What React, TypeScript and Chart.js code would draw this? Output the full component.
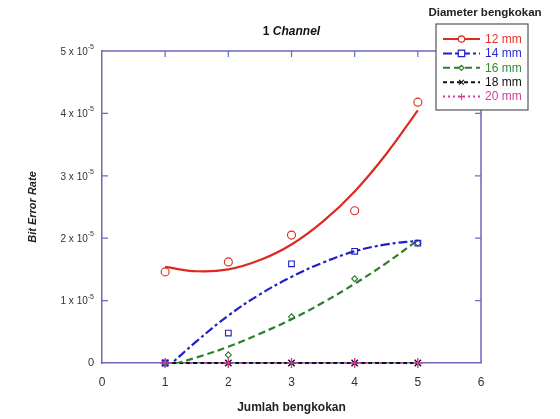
import React, { useEffect, useRef } from "react";
import { Chart, registerables } from "chart.js";

Chart.register(...registerables);

// Measured points: number of bends vs bit error rate (values in units of 10^-5)
const bends = [1, 2, 3, 4, 5];
const ber12 = [1.46, 1.62, 2.05, 2.44, 4.18];
const ber14 = [0, 0.48, 1.59, 1.79, 1.92];
const ber16 = [0, 0.13, 0.74, 1.35, 1.92];
const ber18 = [0, 0, 0, 0, 0];
const ber20 = [0, 0, 0, 0, 0];

// Trend curves sampled along the x axis
const fitX = [1, 1.5, 2, 2.5, 3, 3.5, 4, 4.5, 5];
const fit12 = [1.54, 1.47, 1.5, 1.65, 1.9, 2.27, 2.75, 3.35, 4.05];
const fit14 = [-0.1, 0.35, 0.76, 1.1, 1.38, 1.61, 1.79, 1.9, 1.96];
const fit16 = [-0.06, 0.09, 0.26, 0.47, 0.7, 0.97, 1.27, 1.6, 1.97];
const fit18 = [0, 0, 0, 0, 0, 0, 0, 0, 0];
const fit20 = [0, 0, 0, 0, 0, 0, 0, 0, 0];

const xTicks = [0, 1, 2, 3, 4, 5, 6];
const yTicks = [0, 1, 2, 3, 4, 5];

const seriesLabels = ["12 mm", "14 mm", "16 mm", "18 mm", "20 mm"];
const seriesColors = ["#dc2a20", "#2020c8", "#2f7d2f", "#111111", "#d23c9e"];
const seriesText = ["#e0342a", "#2a2ad0", "#3a8a3a", "#111111", "#d23c9e"];
const seriesDash = [[], [9, 3, 3, 3], [7, 4], [4, 3], [2, 3]];
const seriesPoint = ["circle", "rect", "rectRot", "crossRot", "cross"];
const seriesRadius = [4, 4, 3, 4.5, 5];

const FONT = "'Liberation Sans', Arial, sans-serif";
const FRAME = "#6a6abf";

const pts = (xs: number[], ys: number[]) => xs.map((x, i) => ({ x, y: ys[i] }));

function drawMarker(ctx: CanvasRenderingContext2D, style: string, x: number, y: number, r: number) {
  ctx.beginPath();
  if (style === "circle") {
    ctx.arc(x, y, r, 0, Math.PI * 2);
  } else if (style === "rect") {
    ctx.rect(x - r, y - r, 2 * r, 2 * r);
  } else if (style === "rectRot") {
    ctx.moveTo(x, y - r);
    ctx.lineTo(x + r, y);
    ctx.lineTo(x, y + r);
    ctx.lineTo(x - r, y);
    ctx.closePath();
  } else if (style === "crossRot") {
    const d = r * 0.75;
    ctx.moveTo(x - d, y - d);
    ctx.lineTo(x + d, y + d);
    ctx.moveTo(x + d, y - d);
    ctx.lineTo(x - d, y + d);
  } else {
    ctx.moveTo(x - r, y);
    ctx.lineTo(x + r, y);
    ctx.moveTo(x, y - r);
    ctx.lineTo(x, y + r);
  }
}

const framePlugin = {
  id: "frameAndLabels",
  afterDraw(chart: any) {
    const { ctx, chartArea: a, scales } = chart;
    const xs = scales.x;
    const ys = scales.y;
    ctx.save();

    // top and right sides of the box
    ctx.strokeStyle = FRAME;
    ctx.lineWidth = 1.5;
    ctx.beginPath();
    ctx.moveTo(a.left, a.top);
    ctx.lineTo(a.right, a.top);
    ctx.lineTo(a.right, a.bottom);
    ctx.stroke();

    // inward tick marks
    ctx.lineWidth = 1.2;
    ctx.beginPath();
    yTicks.slice(1, -1).forEach((v) => {
      const py = ys.getPixelForValue(v);
      ctx.moveTo(a.left, py);
      ctx.lineTo(a.left + 6, py);
      ctx.moveTo(a.right, py);
      ctx.lineTo(a.right - 6, py);
    });
    xTicks.slice(1, -1).forEach((v) => {
      const px = xs.getPixelForValue(v);
      ctx.moveTo(px, a.top);
      ctx.lineTo(px, a.top + 6);
    });
    ctx.stroke();

    // y tick labels with superscript exponent
    ctx.fillStyle = "#333";
    ctx.textBaseline = "middle";
    yTicks.forEach((v) => {
      const py = ys.getPixelForValue(v);
      const right = a.left - 8;
      if (v === 0) {
        ctx.font = `11px ${FONT}`;
        ctx.textAlign = "right";
        ctx.fillText("0", right, py);
        return;
      }
      ctx.font = `7px ${FONT}`;
      const sup = "-5";
      const supW = ctx.measureText(sup).width;
      ctx.textAlign = "left";
      ctx.fillText(sup, right - supW, py - 4);
      ctx.font = `10px ${FONT}`;
      ctx.textAlign = "right";
      ctx.fillText(`${v} x 10`, right - supW, py + 1);
    });

    // title: "1 Channel"
    const cx = (a.left + a.right) / 2;
    ctx.fillStyle = "#111";
    ctx.font = `bold 12px ${FONT}`;
    const p1 = "1 ";
    const w1 = ctx.measureText(p1).width;
    ctx.font = `italic bold 12px ${FONT}`;
    const p2 = "Channel";
    const w2 = ctx.measureText(p2).width;
    const tx = cx - (w1 + w2) / 2;
    ctx.textAlign = "left";
    ctx.font = `bold 12px ${FONT}`;
    ctx.fillText(p1, tx, 32);
    ctx.font = `italic bold 12px ${FONT}`;
    ctx.fillText(p2, tx + w1, 32);

    // legend box, drawn over the top-right corner of the frame
    const bx = 436, by = 24, bw = 92, bh = 86;
    ctx.fillStyle = "#fff";
    ctx.fillRect(bx, by, bw, bh);
    ctx.strokeStyle = "#555";
    ctx.lineWidth = 1.2;
    ctx.strokeRect(bx, by, bw, bh);

    ctx.fillStyle = "#222";
    ctx.font = `bold 11.5px ${FONT}`;
    ctx.textAlign = "center";
    ctx.fillText("Diameter bengkokan", 485, 13);

    seriesLabels.forEach((lab, i) => {
      const ry = 39 + i * 14.4;
      ctx.strokeStyle = seriesColors[i];
      ctx.lineWidth = 2;
      ctx.setLineDash(seriesDash[i]);
      ctx.beginPath();
      ctx.moveTo(443, ry);
      ctx.lineTo(480, ry);
      ctx.stroke();
      ctx.setLineDash([]);
      ctx.lineWidth = 1.2;
      drawMarker(ctx, seriesPoint[i], 461.5, ry, i === 2 ? 2.5 : 3.2);
      if (seriesPoint[i] === "circle" || seriesPoint[i] === "rect" || seriesPoint[i] === "rectRot") {
        ctx.fillStyle = "#fff";
        ctx.fill();
      }
      ctx.stroke();
      ctx.fillStyle = seriesText[i];
      ctx.font = `12px ${FONT}`;
      ctx.textAlign = "left";
      ctx.fillText(lab, 485, ry + 0.5);
    });

    ctx.restore();
  },
};

export default function App() {
  const ref = useRef<HTMLCanvasElement | null>(null);

  useEffect(() => {
    if (!ref.current) return;
    const markerSets = [ber12, ber14, ber16, ber18, ber20];
    const fitSets = [fit12, fit14, fit16, fit18, fit20];

    const fitDatasets = fitSets.map((ys, i) => ({
      label: seriesLabels[i] + " fit",
      data: pts(fitX, ys),
      borderColor: seriesColors[i],
      borderWidth: 2.2,
      borderDash: seriesDash[i],
      pointRadius: 0,
      tension: 0.4,
      fill: false,
      // flat curves lie on the axis; keep them fully visible
      clip: i >= 3 ? false : undefined,
      order: 3,
    }));
    const markerDatasets = markerSets.map((ys, i) => ({
      label: seriesLabels[i],
      data: pts(bends, ys),
      showLine: false,
      pointStyle: seriesPoint[i],
      pointRadius: seriesRadius[i],
      pointBorderWidth: i >= 3 ? 1.4 : 1.1,
      pointBorderColor: seriesColors[i],
      pointBackgroundColor: "rgba(255,255,255,0)",
      borderColor: seriesColors[i],
      clip: false,
      // the 20 mm "+" markers sit on top of the others
      order: i === 4 ? 1 : 2,
    }));

    const chart = new Chart(ref.current, {
      type: "line",
      data: { datasets: [...fitDatasets, ...markerDatasets] as any },
      options: {
        animation: false,
        responsive: true,
        maintainAspectRatio: false,
        layout: { padding: { top: 51, right: 79, left: 0, bottom: 0 } },
        plugins: { legend: { display: false }, tooltip: { enabled: false }, title: { display: false } },
        scales: {
          x: {
            type: "linear",
            min: 0,
            max: 6,
            afterFit: (s: any) => { s.height = 56; },
            afterBuildTicks: (s: any) => { s.ticks = xTicks.map((v) => ({ value: v })); },
            grid: { display: false },
            border: { display: true, color: FRAME, width: 1.5 },
            ticks: { color: "#333", font: { size: 12, family: FONT }, padding: 4 },
            title: {
              display: true,
              text: "Jumlah bengkokan",
              color: "#222",
              font: { size: 12, weight: "bold", family: FONT },
              padding: { top: 0, bottom: 4 },
            },
          },
          y: {
            type: "linear",
            min: 0,
            max: 5,
            afterFit: (s: any) => { s.width = 102; },
            afterBuildTicks: (s: any) => { s.ticks = yTicks.map((v) => ({ value: v })); },
            grid: { display: false },
            border: { display: true, color: FRAME, width: 1.5 },
            ticks: { display: false },
            title: {
              display: true,
              text: "Bit Error Rate",
              color: "#222",
              font: { size: 11, weight: "bold", style: "italic", family: FONT },
              padding: { top: 26, bottom: 0 },
            },
          },
        },
      } as any,
      plugins: [framePlugin],
    });
    return () => chart.destroy();
  }, []);

  return (
    <div style={{ position: "fixed", left: 0, top: 0, width: 560, height: 419, background: "#fff" }}>
      <canvas ref={ref} />
    </div>
  );
}
